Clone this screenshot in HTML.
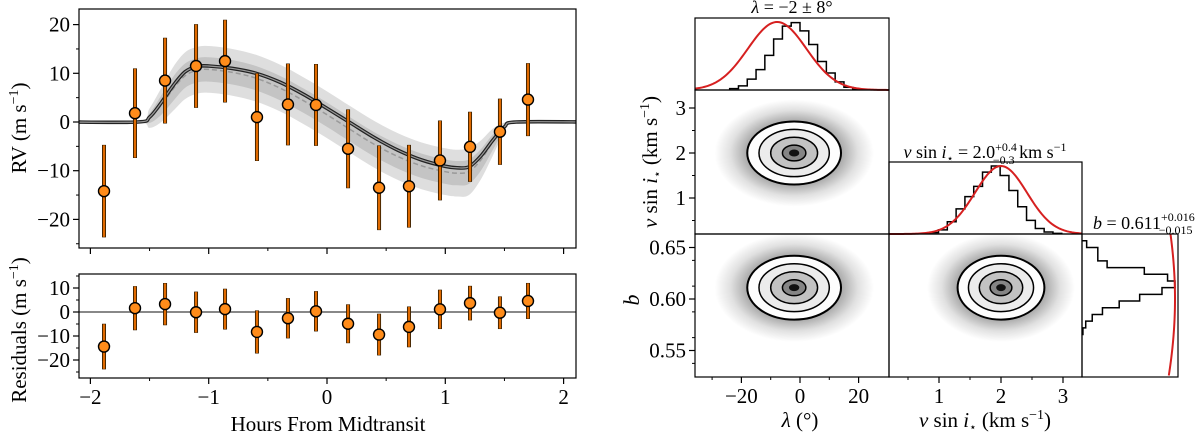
<!DOCTYPE html>
<html><head><meta charset="utf-8"><style>
html,body{margin:0;padding:0;background:#fff;}
svg{display:block;font-family:"Liberation Serif","DejaVu Serif",serif;}
</style></head><body>
<svg id="fig" width="1200" height="435" viewBox="0 0 1200 435" xmlns="http://www.w3.org/2000/svg">
<defs>
<radialGradient id="cloud" cx="50%" cy="50%" r="50%">
<stop offset="0" stop-color="#000" stop-opacity="0.5"/>
<stop offset="0.55" stop-color="#000" stop-opacity="0.38"/>
<stop offset="0.8" stop-color="#000" stop-opacity="0.12"/>
<stop offset="1" stop-color="#000" stop-opacity="0"/>
</radialGradient>
</defs>
<g id="left"></g>
<g id="right"></g>
</svg>
<script>
// ---------- RV data ----------
const hours = [-1.885,-1.623,-1.369,-1.107,-0.862,-0.592,-0.330,-0.093,0.178,0.440,0.693,0.955,1.209,1.462,1.699];
const rv = [-14.2,1.8,8.5,11.5,12.5,1.0,3.6,3.5,-5.5,-13.5,-13.2,-7.9,-5.1,-2.0,4.6];
const rvErr = [9.5,9.2,8.8,8.6,8.5,9.0,8.4,8.4,8.1,8.7,8.5,8.2,7.2,6.8,7.5];
const resid = [-14.4,1.6,3.3,-0.1,1.2,-8.3,-2.6,0.3,-4.9,-9.4,-6.2,1.1,3.7,-0.3,4.6];
const modelH = [-2.2,-1.6,-1.5,-1.4,-1.3,-1.2,-1.1,-1.0,-0.8,-0.6,-0.4,-0.2,0,0.2,0.4,0.6,0.8,1.0,1.1,1.2,1.3,1.4,1.5,1.6,2.2];
const modelV = [0,0,1,4,7.5,10.3,11.4,11.5,11,10,8.2,5.7,2.8,-0.2,-3.2,-5.8,-7.8,-9.1,-9.4,-9.2,-7,-3.8,-1,0,0];
const dashV  = [0,0,0.8,3.5,6.8,9.5,10.6,10.8,10.2,9.0,7.0,4.4,1.5,-1.6,-4.6,-7.1,-9.0,-10.2,-10.5,-10.2,-7.8,-4.2,-1.1,0,0];
const darkW  = [0,0,1,2,2.5,2.5,2.5,2.5,2.5,2.5,2.5,2.5,2.5,2.5,2.5,2.5,2.5,2.5,2.5,2.5,2.2,1.6,0.6,0,0];
const lightW = [0,0,2,3.5,4.5,4.8,4.8,4.8,4.8,4.8,4.8,4.8,4.8,4.8,4.8,4.8,4.8,4.8,4.8,4.8,4,2.8,1,0,0];
const rvTicks = [-20,-10,0,10,20];
const resTicks = [-20,-10,0,10];
const hourTicks = [-2,-1,0,1,2];
// ---------- corner data ----------
const lamHistStart = -24, lamHistStep = 3;
const lamHist = [0.02,0.06,0.16,0.30,0.51,0.75,0.94,0.99,0.87,0.67,0.42,0.25,0.12,0.04,0.01];
const vHistStart = 0.85, vHistStep = 0.142;
const vHist = [0.02,0.06,0.18,0.37,0.55,0.70,0.91,1.0,0.86,0.64,0.40,0.20,0.08,0.03,0.01];
const bHistStart = 0.6565, bHistStep = -0.0065;
const bHist = [0.05,0.17,0.17,0.27,0.67,0.92,1.0,0.86,0.62,0.40,0.22,0.11,0.04,0.01];
const lamPrior = [-7.8, 10];
const vPrior = [2.0, 0.42];
const bPrior = [0.60, 0.2];
const post = {lam:[-2,8], v:[2.0,0.35], b:[0.611,0.0155]};
const lamTicks = [-20,0,20], vTicks = [1,2,3], bTicks = [0.55,0.60,0.65];

const NS = "http://www.w3.org/2000/svg";
function el(tag, attrs, parent, text){
  const e = document.createElementNS(NS, tag);
  for (const k in attrs) e.setAttribute(k, attrs[k]);
  if (text !== undefined) e.textContent = text;
  parent.appendChild(e); return e;
}
const L = document.getElementById('left'), R = document.getElementById('right');

const xH = h => 327 + h*118.3;
const yRV = v => 122 - v*4.87;
const yRes = v => 312 - v*2.4;
const xL = l => 800 + l*2.93;
const yVs = v => 153 - (v-2)*45;
const xVs = v => 1001 + (v-2)*62;
const yB = b => 299 - (b-0.60)*1030;

function smooth(pts){
  let d = `M${pts[0][0]},${pts[0][1]}`;
  for (let i=0;i<pts.length-1;i++){
    const p0=pts[Math.max(i-1,0)], p1=pts[i], p2=pts[i+1], p3=pts[Math.min(i+2,pts.length-1)];
    const c1=[p1[0]+(p2[0]-p0[0])/6, p1[1]+(p2[1]-p0[1])/6];
    const c2=[p2[0]-(p3[0]-p1[0])/6, p2[1]-(p3[1]-p1[1])/6];
    d += ` C${c1[0]},${c1[1]} ${c2[0]},${c2[1]} ${p2[0]},${p2[1]}`;
  }
  return d;
}
function band(w){
  const up = modelH.map((h,i)=>[xH(h), yRV(dashV[i]+w[i])]);
  const lo = modelH.map((h,i)=>[xH(h), yRV(dashV[i]-w[i])]).reverse();
  return smooth(up) + ' L' + smooth(lo).slice(1) + ' Z';
}

const clipR = el('clipPath',{id:'rvclip'},L); el('rect',{x:79,y:9,width:497,height:239},clipR);
const gB = el('g',{'clip-path':'url(#rvclip)'},L);
let p = el('path',{d:band(lightW),fill:'#dedede'},gB);
 
p = el('path',{d:band(darkW),fill:'#c4c4c4'},gB);
 
p = el('path',{d:smooth(modelH.map((h,i)=>[xH(h),yRV(dashV[i])])),fill:'none',stroke:'#999','stroke-width':1.5,'stroke-dasharray':'5,3'},gB);
 
const md = smooth(modelH.map((h,i)=>[xH(h),yRV(modelV[i])]));
p = el('path',{d:md,fill:'none',stroke:'#222','stroke-width':3.6},gB);
 
el('path',{d:md,fill:'none',stroke:'#999','stroke-width':1.2},gB);

function points(parent, vals, ys, nm){
  hours.forEach((h,i)=>{
    const g = el('g',{},parent);
    
    
    const x = xH(h);
    el('line',{x1:x,x2:x,y1:ys(vals[i]+rvErr[i]),y2:ys(vals[i]-rvErr[i]),stroke:'#3a2000','stroke-width':4},g);
    el('line',{x1:x,x2:x,y1:ys(vals[i]+rvErr[i])+0.5,y2:ys(vals[i]-rvErr[i])-0.5,stroke:'#e06a00','stroke-width':2.2},g);
    el('circle',{cx:x,cy:ys(vals[i]),r:5.5,fill:'#ff8c1a',stroke:'#000','stroke-width':1.4},g);
  });
}
points(L, rv, yRV, 'rv');

p = el('line',{x1:79,x2:576,y1:yRes(0),y2:yRes(0),stroke:'#888','stroke-width':2},L);
 
points(L, resid, yRes, 'residual');

function frame(parent,x,y,w,h,nm){
  const r = el('rect',{x:x,y:y,width:w,height:h,fill:'none',stroke:'#000','stroke-width':1.2},parent);
   
}
frame(L,79,9,497,239,'rv-axes-frame');
frame(L,79,274,497,104,'residual-axes-frame');

function yTicks(parent, x, ticks, minors, sc, labels){
  minors.forEach(v=>el('line',{x1:x,x2:x-3,y1:sc(v),y2:sc(v),stroke:'#000','stroke-width':1},parent));
  ticks.forEach(v=>{
    el('line',{x1:x,x2:x-6,y1:sc(v),y2:sc(v),stroke:'#000','stroke-width':1.2},parent);
    if (labels){
      const t = el('text',{x:x-9,y:sc(v)+7,'text-anchor':'end','font-size':21},parent, labels(v));
       
    }
  });
}
function xTicks(parent, y, ticks, minors, sc, labels){
  minors.forEach(v=>el('line',{x1:sc(v),x2:sc(v),y1:y,y2:y+3,stroke:'#000','stroke-width':1},parent));
  ticks.forEach(v=>{
    el('line',{x1:sc(v),x2:sc(v),y1:y,y2:y+6,stroke:'#000','stroke-width':1.2},parent);
    if (labels){
      const t = el('text',{x:sc(v),y:y+26,'text-anchor':'middle','font-size':21},parent, labels(v));
       
    }
  });
}
const fmtInt = v => (v<0?'\u2212':'')+Math.abs(v);
yTicks(L,79,rvTicks,[-25,-15,-5,5,15],yRV,fmtInt);
yTicks(L,79,resTicks,[-25,-15,-5,5,15],yRes,fmtInt);
xTicks(L,248,hourTicks,[-1.5,-0.5,0.5,1.5],xH,null);
xTicks(L,378,hourTicks,[-1.5,-0.5,0.5,1.5],xH,fmtInt);

let t = el('text',{x:328,y:431,'text-anchor':'middle','font-size':21},L,'Hours From Midtransit');
 
t = el('text',{transform:'translate(26,128) rotate(-90)','text-anchor':'middle','font-size':21},L);
t.innerHTML = 'RV (m s<tspan dy="-8" font-size="14">\u22121</tspan><tspan dy="8">)</tspan>';
 
t = el('text',{transform:'translate(26,330) rotate(-90)','text-anchor':'middle','font-size':21},L);
t.innerHTML = 'Residuals (m s<tspan dy="-8" font-size="14">\u22121</tspan><tspan dy="8">)</tspan>';
 

function density(parent, cx, cy, sx, sy, nm){
  const g = el('g',{},parent);
  
  
  el('ellipse',{cx:cx,cy:cy,rx:sx*3.4,ry:sy*3.4,fill:'url(#cloud)'},g);
  const fills = ['#fdfdfd','#ececec','#c2c2c2','#858585'];
  const lev = [2,1.5,1,0.5];
  lev.forEach((k,i)=>{
    const e = el('ellipse',{cx:cx,cy:cy,rx:sx*k,ry:sy*k,fill:fills[i],stroke:'#000','stroke-width':i==0?2:1.5},g);
    
    
  });
  el('ellipse',{cx:cx,cy:cy,rx:sx*0.22,ry:sy*0.22,fill:'#111'},g);
}
const sL = post.lam[1]*2.93, sV = post.v[1]*45, sVx = post.v[1]*62, sB = post.b[1]*1030;
const c1 = el('clipPath',{id:'c1'},R); el('rect',{x:695,y:90,width:194,height:144},c1);
const c2 = el('clipPath',{id:'c2'},R); el('rect',{x:695,y:234,width:194,height:143},c2);
const c3 = el('clipPath',{id:'c3'},R); el('rect',{x:889,y:234,width:193,height:143},c3);
density(el('g',{'clip-path':'url(#c1)'},R), xL(post.lam[0]), yVs(post.v[0]), sL, sV, 'lambda-vsini-density');
density(el('g',{'clip-path':'url(#c2)'},R), xL(post.lam[0]), yB(post.b[0]), sL, sB, 'lambda-b-density');
density(el('g',{'clip-path':'url(#c3)'},R), xVs(post.v[0]), yB(post.b[0]), sVx, sB, 'vsini-b-density');

function stepPath(vals, start, step, pos, base, hgt, vertical){
  let d='';
  vals.forEach((c,i)=>{
    const a = pos(start+i*step), b2 = pos(start+(i+1)*step), h = vertical ? base + c*hgt : base - c*hgt;
    if (!vertical) d += (i==0?`M${a},${base} L${a},${h}`:` L${a},${h}`) + ` L${b2},${h}`;
    else d += (i==0?`M${base},${a} L${h},${a}`:` L${h},${a}`) + ` L${h},${b2}`;
  });
  const last = pos(start+vals.length*step);
  d += vertical ? ` L${base},${last}` : ` L${last},${base}`;
  return d;
}
function gaussPath(prior, from, to, pos, base, hgt, vertical){
  let d='';
  for (let i=0;i<=120;i++){
    const v = from + (to-from)*i/120;
    const g = Math.exp(-0.5*Math.pow((v-prior[0])/prior[1],2));
    const a = pos(v), h = vertical ? base + g*hgt : base - g*hgt;
    d += (i?' L':'M') + (vertical? `${h},${a}` : `${a},${h}`);
  }
  return d;
}
p = el('path',{d:stepPath(lamHist,lamHistStart,lamHistStep,xL,90,68,false),fill:'none',stroke:'#000','stroke-width':1.5},R);
 
p = el('path',{d:gaussPath(lamPrior,-35.8,30.4,xL,90,68,false),fill:'none',stroke:'#d62020','stroke-width':2},R);
 
p = el('path',{d:stepPath(vHist,vHistStart,vHistStep,xVs,234,68,false),fill:'none',stroke:'#000','stroke-width':1.5},R);
 
p = el('path',{d:gaussPath(vPrior,0.19,3.3,xVs,234,68,false),fill:'none',stroke:'#d62020','stroke-width':2},R);
 
p = el('path',{d:stepPath(bHist,bHistStart,bHistStep,yB,1082,93,true),fill:'none',stroke:'#000','stroke-width':1.5},R);
 
p = el('path',{d:gaussPath(bPrior,0.5257,0.6636,yB,1082,93,true),fill:'none',stroke:'#d62020','stroke-width':2},R);
 

frame(R,695,18,194,72,'lambda-hist-frame');
frame(R,695,90,194,144,'lambda-vsini-frame');
frame(R,889,162,193,72,'vsini-hist-frame');
frame(R,695,234,194,143,'lambda-b-frame');
frame(R,889,234,193,143,'vsini-b-frame');
frame(R,1082,234,96,143,'b-hist-frame');

yTicks(R,695,vTicks,[0.5,1.5,2.5],yVs,v=>String(v));
yTicks(R,695,bTicks,[0.5375,0.5625,0.5875,0.6125,0.6375],yB,v=>v.toFixed(2));
xTicks(R,377,lamTicks,[-30,-10,10],xL,fmtInt);
xTicks(R,377,vTicks,[0.5,1.5,2.5],xVs,v=>String(v));

t = el('text',{x:792,y:13,'text-anchor':'middle','font-size':18},R);
t.innerHTML = '<tspan font-style="italic">λ</tspan> = \u22122 ± 8°';
 
t = el('text',{x:985,y:158,'text-anchor':'middle','font-size':18},R);
t.innerHTML = '<tspan font-style="italic">v</tspan> sin <tspan font-style="italic">i</tspan><tspan font-size="11" dy="4">⋆</tspan><tspan dy="-4"> = 2.0</tspan><tspan font-size="12" dy="-7">+0.4</tspan><tspan font-size="12" dx="-24" dy="13">\u22120.3</tspan><tspan dy="-6"> km s</tspan><tspan font-size="12" dy="-7">\u22121</tspan>';
 
t = el('text',{x:1093,y:229,'font-size':18},R);
t.innerHTML = '<tspan font-style="italic">b</tspan> = 0.611<tspan font-size="12" dy="-8">+0.016</tspan><tspan font-size="12" dx="-36" dy="13">\u22120.015</tspan>';
 

t = el('text',{x:800,y:427,'text-anchor':'middle','font-size':21},R);
t.innerHTML = '<tspan font-style="italic">λ</tspan> (°)';
 
t = el('text',{x:985,y:427,'text-anchor':'middle','font-size':21},R);
t.innerHTML = '<tspan font-style="italic">v</tspan> sin <tspan font-style="italic">i</tspan><tspan font-size="12" dy="4">⋆</tspan><tspan dy="-4"> (km s</tspan><tspan font-size="14" dy="-8">\u22121</tspan><tspan dy="8">)</tspan>';
 
t = el('text',{transform:'translate(639,300) rotate(-90)','text-anchor':'middle','font-size':22,'font-style':'italic'},R,'b');
 
t = el('text',{transform:'translate(657,162) rotate(-90)','text-anchor':'middle','font-size':21},R);
t.innerHTML = '<tspan font-style="italic">v</tspan> sin <tspan font-style="italic">i</tspan><tspan font-size="12" dy="4">⋆</tspan><tspan dy="-4"> (km s</tspan><tspan font-size="14" dy="-8">\u22121</tspan><tspan dy="8">)</tspan>';
 
</script>
</body></html>
